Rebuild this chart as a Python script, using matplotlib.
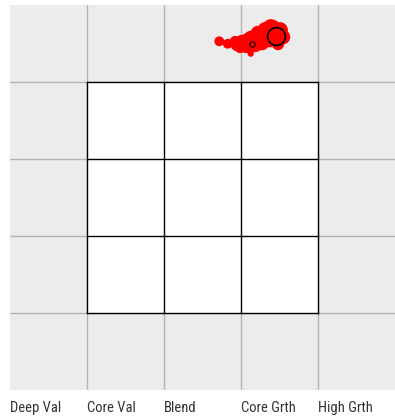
import matplotlib
matplotlib.use("Agg")
import matplotlib.pyplot as plt
from matplotlib.patches import Rectangle

# style box categories
categories = ["Deep Val", "Core Val", "Blend", "Core Grth", "High Grth"]

# holdings positions (style x, size y) and bubble sizes
hold_x = [2.948, 3.013, 3.091, 3.182, 3.273, 3.351, 3.403, 3.312, 3.221, 3.065,
          2.987, 3.182, 3.273, 3.377, 3.506, 3.545, 3.481, 2.922, 3.117,
          3.150, 3.240, 3.330, 3.420, 3.380,
          2.718, 2.827, 3.126]
hold_y = [4.481, 4.519, 4.545, 4.571, 4.597, 4.636, 4.701, 4.688, 4.636, 4.455,
          4.442, 4.481, 4.506, 4.545, 4.675, 4.584, 4.494, 4.532, 4.597,
          4.530, 4.560, 4.600, 4.640, 4.720,
          4.529, 4.497, 4.368]
hold_s = [80, 110, 110, 150, 150, 190, 150, 100, 110, 80,
          55, 110, 110, 110, 130, 110, 80, 55, 55,
          120, 140, 150, 160, 110,
          50, 50, 20]

# fund centroid and a highlighted holding
fund_x, fund_y, fund_s = 3.451, 4.593, 165
mark_x, mark_y, mark_s = 3.139, 4.494, 14

fig = plt.figure(figsize=(3.95, 4.19), dpi=100)
ax = fig.add_axes([10 / 395, 29 / 419, 385 / 395, 385 / 419])
ax.set_xlim(0, 5)
ax.set_ylim(0, 5)
ax.set_facecolor("#ececec")
for sp in ax.spines.values():
    sp.set_visible(False)
ax.set_xticks([])
ax.set_yticks([])

for v in range(1, 5):
    ax.axvline(v, color="#b4b4b4", lw=1, zorder=1)
    ax.axhline(v, color="#b4b4b4", lw=1, zorder=1)

ax.add_patch(Rectangle((1, 1), 3, 3, facecolor="white", edgecolor="none", zorder=2))
for v in range(1, 5):
    ax.plot([v, v], [1, 4], color="black", lw=1, zorder=3)
    ax.plot([1, 4], [v, v], color="black", lw=1, zorder=3)

ax.scatter(hold_x, hold_y, s=hold_s, color="red", edgecolors="none", zorder=4)
ax.scatter([mark_x], [mark_y], s=mark_s, color="red", edgecolors="black", linewidths=0.8, zorder=5)
ax.scatter([fund_x], [fund_y], s=fund_s, color="red", edgecolors="black", linewidths=1.2, zorder=6)

for i, lab in enumerate(categories):
    ax.text(i, -0.235, lab, ha="left", va="center", fontsize=10.5,
            family=["Roboto Condensed", "DejaVu Sans"], color="#333333",
            clip_on=False)

plt.savefig("out.png", dpi=100)
